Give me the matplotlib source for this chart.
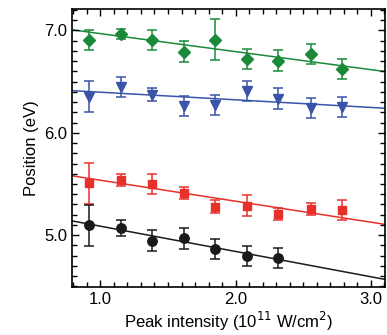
import matplotlib
matplotlib.use("Agg")
import matplotlib.pyplot as plt
import numpy as np
from matplotlib.ticker import MultipleLocator

plt.rcParams['font.family'] = ['Liberation Sans', 'DejaVu Sans']

x_all = [0.915, 1.152, 1.383, 1.618, 1.848, 2.087, 2.316, 2.556, 2.785]

green_y = [6.908, 6.964, 6.908, 6.794, 6.908, 6.719, 6.705, 6.768, 6.624]
green_err = [0.10, 0.05, 0.10, 0.10, 0.20, 0.10, 0.10, 0.10, 0.10]
green_fit = (7.145, -0.176)

blue_y = [6.354, 6.446, 6.373, 6.264, 6.274, 6.406, 6.333, 6.243, 6.254]
blue_err = [0.153, 0.10, 0.06, 0.10, 0.10, 0.10, 0.10, 0.10, 0.10]
blue_fit = (6.471, -0.0743)

red_y = [5.506, 5.541, 5.499, 5.411, 5.277, 5.290, 5.207, 5.256, 5.248]
red_err = [0.20, 0.06, 0.10, 0.06, 0.065, 0.10, 0.06, 0.06, 0.10]
red_fit = (5.742, -0.205)

black_x = x_all[:7]
black_y = [5.095, 5.068, 4.946, 4.968, 4.866, 4.797, 4.775]
black_err = [0.20, 0.078, 0.10, 0.10, 0.10, 0.10, 0.10]
black_fit = (5.335, -0.247)

xlim = (0.79, 3.105)
ylim = (4.494, 7.21)

fig = plt.figure(figsize=(3.87, 3.35), dpi=100)
ax = fig.add_axes([0.186, 0.1433, 0.809, 0.83])

series = [
    (x_all, green_y, green_err, green_fit, '#1a8a3a', 'D', 6.0),
    (x_all, blue_y, blue_err, blue_fit, '#3a55a8', 'v', 7.5),
    (x_all, red_y, red_err, red_fit, '#e8302a', 's', 5.8),
    (black_x, black_y, black_err, black_fit, '#1a1a1a', 'o', 6.8),
]

xl = np.array(xlim)
for xs, ys, es, (b, m), c, mk, ms in series:
    ax.plot(xl, b + m * xl, color=c, lw=1.1, zorder=1)
    ax.errorbar(xs, ys, yerr=es, fmt=mk, color=c, ms=ms, capsize=3.5,
                elinewidth=1.1, capthick=1.1, zorder=2)

ax.set_xlim(*xlim)
ax.set_ylim(*ylim)
ax.xaxis.set_major_locator(MultipleLocator(1.0))
ax.xaxis.set_minor_locator(MultipleLocator(0.1))
ax.yaxis.set_major_locator(MultipleLocator(1.0))
ax.yaxis.set_minor_locator(MultipleLocator(0.1))
ax.xaxis.set_major_formatter(matplotlib.ticker.FormatStrFormatter('%.1f'))
ax.yaxis.set_major_formatter(matplotlib.ticker.FormatStrFormatter('%.1f'))
ax.tick_params(which='both', direction='in', top=True, right=True, width=1.0)
ax.tick_params(which='major', length=5, labelsize=12)
ax.tick_params(which='minor', length=3.5)
for s in ax.spines.values():
    s.set_linewidth(1.2)

ax.set_xlabel('Peak intensity (10$^{11}$ W/cm$^{2}$)', fontsize=12, labelpad=2)
ax.set_ylabel('Position (eV)', fontsize=12, labelpad=4)

fig.savefig('out.png', dpi=100)
